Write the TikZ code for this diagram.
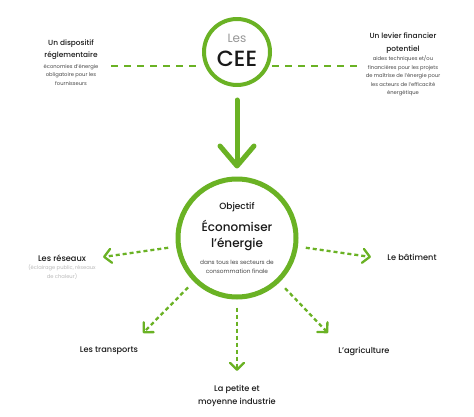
\documentclass[tikz,border=0pt]{standalone}
\usepackage{fontspec}
\setmainfont{Poppins}[BoldFont={Poppins Medium}]
\usetikzlibrary{arrows.meta}
\definecolor{ceegreen}{RGB}{106,178,36}
\definecolor{ceeink}{RGB}{25,25,25}
\definecolor{ceegrey}{RGB}{70,70,70}
\definecolor{ceepale}{RGB}{185,185,185}
\definecolor{ceeles}{RGB}{150,150,150}
\begin{document}
\begin{tikzpicture}[x=1pt,y=-1pt, line cap=round, line join=round,
  ring/.style={circle,draw=ceegreen,inner sep=0pt},
  title/.style={font=\bfseries\fontsize{7.4}{12.5}\selectfont,text=ceeink,align=center,inner sep=0pt},
  sectorname/.style={title,font=\bfseries\fontsize{8.2}{13}\selectfont},
  note/.style={font=\fontsize{5.2}{8.5}\selectfont,text=ceegrey,align=center,inner sep=0pt},
  linkline/.style={draw=ceegreen,line width=2.8pt,line cap=butt,dash pattern=on 7pt off 6pt},
  sector/.style={draw=ceegreen,line width=2.3pt,line cap=butt,dash pattern=on 4pt off 3pt,
    -{Straight Barb[length=7pt,width=14pt,line width=2.3pt,round]}}]
\fill[white] (0,0) rectangle (474,417);
\useasboundingbox (0,0) rectangle (474,417);
% top: the CEE and the two sides of the scheme
\node[ring,line width=4pt,minimum size=66pt] (cee) at (237,52) {};
\node[font=\fontsize{12}{12}\selectfont,text=ceeles,inner sep=0pt] (ceeLes) at (237,38) {Les};
\node[font=\bfseries\fontsize{22}{22}\selectfont,text=ceeink,inner sep=0pt] (ceeName) at (237,59) {CEE};
\node[title] (dispTitle) at (71,49.5) {Un dispositif\\réglementaire};
\node[note] (dispNote) at (71,74.5) {économies d'énergie\\obligatoire pour les\\fournisseurs};
\node[title] (levTitle) at (403,43) {Un levier financier\\potentiel};
\node[note] (levNote) at (403,76) {aides techniques et/ou\\financières pour les projets\\de maîtrise de l'énergie pour\\les acteurs de l'efficacité\\énergétique};
\coordinate (linkL) at (111,66);
\coordinate (linkR) at (358,66);
\draw[linkline] (linkL) -- (linkL -| cee.west);
\draw[linkline] (cee.east |- linkR) -- (linkR);

% middle: the objective
\node[ring,line width=5pt,minimum size=118pt,outer sep=10.5pt] (obj) at (237,238) {};
\draw[draw=ceegreen,line width=5pt,shorten <=13pt,-{Straight Barb[length=20pt,width=34pt,line width=5pt,round]}] (cee) -- (obj);
\node[font=\bfseries\fontsize{9}{9}\selectfont,text=ceeink,inner sep=0pt] (objKicker) at (237,207) {Objectif};
\node[font=\bfseries\fontsize{12}{15.5}\selectfont,text=ceeink,align=center,inner sep=0pt] (objHead) at (237,235.5) {Économiser\\l’énergie};
\node[note,font=\fontsize{5.8}{9}\selectfont] (objNote) at (237,266.5) {dans tous les secteurs de\\consommation finale};

% bottom: the sectors
\node[sectorname] (reseaux) at (62,258) {Les réseaux};
\node[note,text=ceepale,font=\fontsize{5.2}{9}\selectfont] (reseauxNote) at (62,272.5) {(éclairage public, réseaux\\de chaleur)};
\node[sectorname] (batiment) at (412,257) {Le bâtiment};
\node[sectorname] (transports) at (109,351) {Les transports};
\node[sectorname] (agriculture) at (364,351) {L’agriculture};
\node[sectorname] (industrie) at (237,395.5) {La petite et\\moyenne industrie};
\coordinate (tipRes) at (103,257);
\coordinate (tipBat) at (371,257);
\coordinate (tipTra) at (143,333);
\coordinate (tipInd) at (237,371);
\coordinate (tipAgr) at (328,333);
\foreach \t in {tipRes,tipBat,tipTra,tipInd,tipAgr} {\draw[sector] (obj) -- (\t);}
\end{tikzpicture}
\end{document}
